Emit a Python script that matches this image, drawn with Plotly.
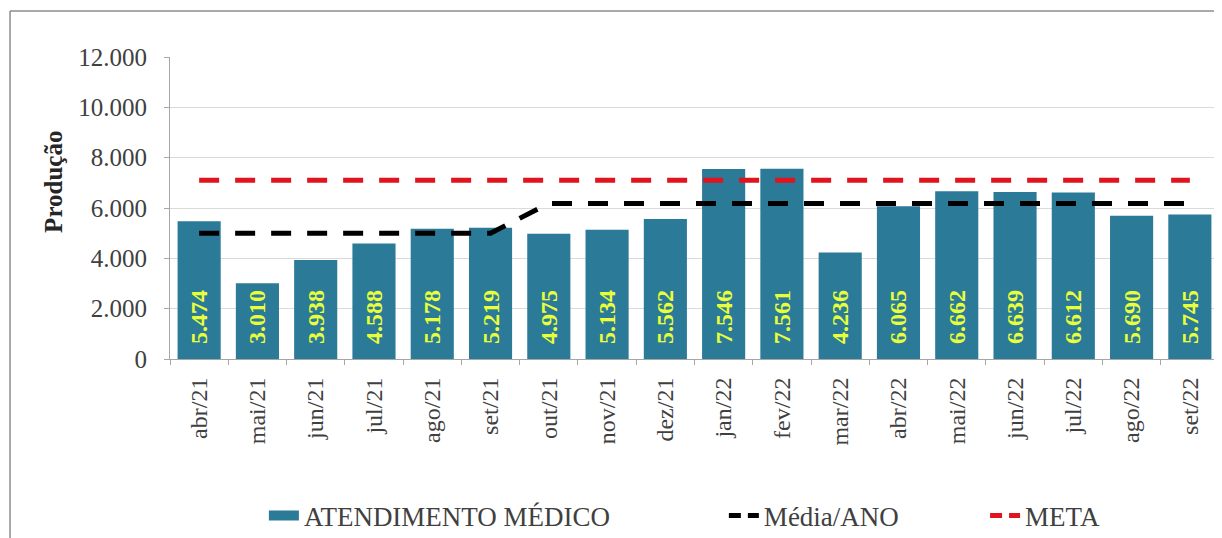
import plotly.graph_objects as go

months = ["abr/21", "mai/21", "jun/21", "jul/21", "ago/21", "set/21", "out/21", "nov/21", "dez/21",
          "jan/22", "fev/22", "mar/22", "abr/22", "mai/22", "jun/22", "jul/22", "ago/22", "set/22"]
atendimento = [5474, 3010, 3938, 4588, 5178, 5219, 4975, 5134, 5562,
               7546, 7561, 4236, 6065, 6662, 6639, 6612, 5690, 5745]
media_ano = [5000, 5000, 5000, 5000, 5000, 5000, 6180, 6180, 6180,
             6180, 6180, 6180, 6180, 6180, 6180, 6180, 6180, 6180]
meta = [7100] * 18

FONT = "Liberation Serif"
GREY = "#404040"
BAR_COLOR = "#2B7A98"

fig = go.Figure()
fig.add_trace(go.Bar(
    x=months, y=atendimento, name="ATENDIMENTO MÉDICO",
    marker=dict(color=BAR_COLOR, line=dict(width=0)),
    texttemplate="\u00a0\u00a0%{y:,.0f}", textposition="inside", textangle=-90,
    insidetextanchor="start",
    textfont=dict(family=FONT, size=24, color="#E8FF3A", weight="bold"),
    showlegend=False, legendgroup="atend",
))
fig.add_trace(go.Scatter(
    x=months, y=media_ano, name="Média/ANO", mode="lines",
    line=dict(color="#000000", width=5, dash="20px,16px"),
    showlegend=False, legendgroup="media",
))
fig.add_trace(go.Scatter(
    x=months, y=meta, name="META", mode="lines",
    line=dict(color="#E0141E", width=5, dash="20px,16px"),
    showlegend=False, legendgroup="meta",
))
# legend entries (Excel-style swatches)
fig.add_trace(go.Scatter(x=[None], y=[None], mode="lines", name="ATENDIMENTO MÉDICO",
                         line=dict(color=BAR_COLOR, width=12), legendgroup="atend", legend="legend"))
fig.add_trace(go.Scatter(x=[None], y=[None], mode="lines", name="Média/ANO",
                         line=dict(color="#000000", width=5, dash="12px,7px"), legendgroup="media", legend="legend2"))
fig.add_trace(go.Scatter(x=[None], y=[None], mode="lines", name="META",
                         line=dict(color="#E0141E", width=5, dash="12px,7px"), legendgroup="meta", legend="legend3"))

legend_common = dict(orientation="h", yref="container", yanchor="middle", y=0.0415, xanchor="left",
                     font=dict(family=FONT, size=27, color=GREY), bgcolor="rgba(0,0,0,0)",
                     itemwidth=30)

fig.update_layout(
    width=1214, height=530,
    margin=dict(l=162, r=3, t=49, b=179),
    paper_bgcolor="white", plot_bgcolor="white",
    separators=",.",
    bargap=0.26,
    showlegend=True,
    font=dict(family=FONT, color=GREY),
    legend=dict(x=0.0895, **legend_common),
    legend2=dict(x=0.528, **legend_common),
    legend3=dict(x=0.777, **legend_common),
    xaxis=dict(
        type="category", range=[-0.5, 17.5],
        tickangle=-90, tickfont=dict(family=FONT, size=24, color=GREY),
        showline=True, linecolor="#A6A6A6", linewidth=1,
        ticks="outside", tickson="boundaries", ticklen=5, tickcolor="#A6A6A6",
        ticklabelstandoff=8,
        showgrid=False,
    ),
    yaxis=dict(
        range=[0, 12000], tickvals=[0, 2000, 4000, 6000, 8000, 10000, 12000],
        tickformat=",.0f",
        tickfont=dict(family=FONT, size=25, color=GREY),
        showline=True, linecolor="#A6A6A6", linewidth=1,
        ticks="outside", ticklen=5, tickcolor="#A6A6A6",
        ticklabelstandoff=12,
        showgrid=True, gridcolor="#DADADA", gridwidth=1,
        zeroline=False,
    ),
    annotations=[dict(
        text="<b>Produção</b>", xref="paper", yref="paper",
        x=-0.111, y=0.585, xanchor="center", yanchor="middle",
        textangle=-90, showarrow=False,
        font=dict(family=FONT, size=25, color="#262626"),
    )],
    shapes=[
        dict(type="line", xref="paper", yref="paper", x0=-0.1525, x1=-0.1525, y0=1.152, y1=-1.0,
             line=dict(color="#8C8C8C", width=1.5)),
        dict(type="line", xref="paper", yref="paper", x0=-0.1525, x1=1.1, y0=1.152, y1=1.152,
             line=dict(color="#8C8C8C", width=1.5)),
    ],
)

fig.write_html("out.html")
